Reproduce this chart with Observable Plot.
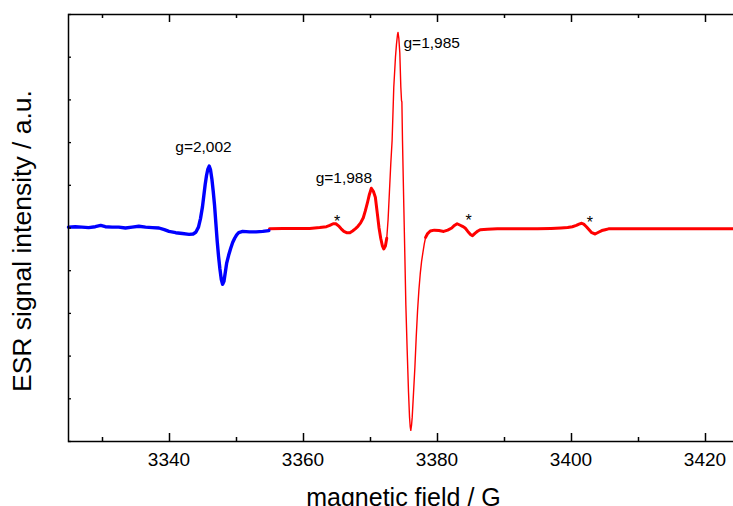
<!DOCTYPE html>
<html>
<head>
<meta charset="utf-8">
<script src="https://cdn.jsdelivr.net/npm/d3@7"></script>
<script src="https://cdn.jsdelivr.net/npm/@observablehq/plot@0.6"></script>
<style>
  html, body { margin: 0; padding: 0; background: #fff; overflow: hidden; }
  #chart svg { display: block; }
</style>
</head>
<body>
<div id="chart"></div>
<script>
// ---- data ----
const blueField = [3325.0,3326.0,3327.0,3328.0,3329.0,3329.8,3330.5,3331.5,3332.5,3333.5,3334.5,3335.5,3336.5,3337.5,3338.5,3339.3,3340.0,3341.0,3342.0,3343.0,3343.6,3344.0,3344.4,3344.7,3345.0,3345.2,3345.4,3345.6,3345.8,3346.0,3346.2,3346.4,3346.6,3346.8,3347.0,3347.2,3347.4,3347.6,3347.8,3348.0,3348.2,3348.4,3348.6,3348.9,3349.2,3349.5,3349.8,3350.1,3350.4,3351.0,3352.0,3353.0,3354.0,3354.9];
const blueSignal = [5.02,5.03,5.02,5.01,5.03,5.06,5.03,5.02,5.02,5.00,5.02,5.04,5.02,5.01,5.00,4.96,4.92,4.89,4.87,4.85,4.86,4.90,5.02,5.22,5.50,5.76,6.02,6.23,6.38,6.45,6.36,6.15,5.86,5.53,5.10,4.68,4.33,4.04,3.80,3.68,3.75,3.96,4.17,4.36,4.52,4.66,4.76,4.84,4.89,4.92,4.91,4.91,4.92,4.94];

const redField = [3355.0,3357.0,3359.0,3361.0,3362.5,3363.5,3364.0,3364.5,3364.9,3365.3,3365.7,3366.1,3366.5,3367.0,3367.4,3367.8,3368.2,3368.6,3369.0,3369.3,3369.6,3369.9,3370.2,3370.5,3370.8,3371.1,3371.35,3371.6,3371.85,3372.05,3372.3,3372.5,3372.7,3372.9,3373.1,3373.3,3373.55,3373.8,3373.95,3374.1,3374.18,3374.3,3374.45,3374.6,3374.7,3374.76,3374.85,3375.05,3375.2,3375.35,3375.55,3375.75,3375.9,3376.0,3376.09,3376.2,3376.3,3376.5,3376.7,3376.9,3377.1,3377.3,3377.5,3377.7,3377.9,3378.1,3378.3,3378.6,3379.0,3379.6,3380.3,3381.0,3381.6,3382.2,3382.6,3383.0,3383.4,3383.8,3384.2,3384.6,3385.0,3385.3,3385.7,3386.1,3386.5,3387.5,3389.0,3391.0,3393.0,3395.0,3397.0,3398.5,3399.5,3400.2,3400.8,3401.2,3401.6,3401.9,3402.3,3402.7,3403.1,3403.6,3404.1,3404.6,3405.1,3405.6,3407.0,3409.0,3411.0,3413.0,3415.0,3417.0,3419.0,3421.0,3423.0,3425.0];
const redSignal = [4.98,4.99,4.99,4.99,5.01,5.03,5.06,5.10,5.10,5.05,4.98,4.92,4.89,4.89,4.93,4.98,5.04,5.12,5.24,5.40,5.58,5.78,5.93,5.86,5.72,5.33,5.00,4.76,4.58,4.51,4.58,4.76,5.20,5.85,6.50,7.05,8.30,9.00,9.30,9.52,9.58,9.45,9.10,8.30,7.99,7.95,7.05,5.49,4.36,3.20,2.13,1.15,0.57,0.35,0.26,0.38,0.57,1.15,1.74,2.45,3.07,3.55,3.93,4.22,4.43,4.63,4.78,4.87,4.93,4.95,4.94,4.92,4.95,5.00,5.06,5.10,5.07,5.04,5.00,4.92,4.85,4.82,4.88,4.93,4.96,4.97,4.98,4.98,4.98,4.98,4.99,5.00,5.01,5.03,5.06,5.09,5.11,5.09,5.03,4.96,4.89,4.86,4.90,4.94,4.96,4.98,4.98,4.98,4.98,4.98,4.98,4.98,4.98,4.98,4.98,4.98];

const noteText  = ["g=2,002", "g=1,988", "g=1,985"];
const noteField = [3345.15, 3366.1, 3375.0];
const noteSignal = [6.89, 6.16, 9.34];
const noteAnchor = ["middle", "middle", "start"];

const starField = [3365.1, 3384.7, 3402.8];
const starSignal = [5.15, 5.16, 5.13];

const xMajorTicks = [3340, 3360, 3380, 3400, 3420];
const xMinorTicks = [3330, 3350, 3370, 3390, 3410];
const yTicks = [0,1,2,3,4,5,6,7,8,9,10];

const xTitle = "magnetic field / G";
const yTitle = "ESR signal intensity / a.u.";

// ---- build tables ----
const blue = blueField.map((x, i) => ({x, y: blueSignal[i]}));
const red = redField.map((x, i) => ({x, y: redSignal[i]}));
const notes = noteText.map((t, i) => ({t, x: noteField[i], y: noteSignal[i], a: noteAnchor[i]}));
const stars = starField.map((x, i) => ({x, y: starSignal[i]}));
const xTickRows = [
  ...xMajorTicks.map(v => ({v, len: 8})),
  ...xMinorTicks.map(v => ({v, len: 4}))
];

const FONT = "'Liberation Sans', Arial, Helvetica, sans-serif";
const blank = () => "";
const W = 733, H = 506, MT = 14, MB = 65, ML = 68;

const chart = Plot.plot({
  width: W,
  height: H,
  marginTop: MT,
  marginBottom: MB,
  marginLeft: ML,
  marginRight: -5,
  style: {fontFamily: FONT, background: "#fff", overflow: "hidden"},
  x: {domain: [3325, 3425]},
  y: {domain: [0, 10]},
  marks: [
    Plot.line(red, {x: "x", y: "y", stroke: "#ff0000", strokeWidth: 1.4}),
    Plot.line(red, {x: "x", y: "y", z: d => d.x < 3376 ? "a" : "b",
      filter: d => d.x <= 3372.5 || d.x >= 3378.3,
      stroke: "#ff0000", strokeWidth: 3}),
    Plot.line(blue, {x: "x", y: "y", stroke: "#0000ff", strokeWidth: 3.4}),
    Plot.text(notes.filter(d => d.a === "middle"), {x: "x", y: "y", text: "t", textAnchor: "middle", fontSize: 15.5, fill: "black"}),
    Plot.text(notes.filter(d => d.a === "start"), {x: "x", y: "y", text: "t", textAnchor: "start", fontSize: 15.5, fill: "black"}),
    Plot.text(stars, {x: "x", y: "y", text: () => "*", fontSize: 16, fill: "black"}),
    Plot.frame({stroke: "black", strokeWidth: 1.5}),
    Plot.axisX({anchor: "bottom", ticks: xMajorTicks, tickSize: 0, tickPadding: 11, fontSize: 19, label: null, tickFormat: d => String(d), fill: "black"}),
    Plot.axisY({anchor: "left", ticks: yTicks, tickSize: 3, dx: 3, tickFormat: blank, label: null, strokeWidth: 1.3, stroke: "black"}),
    Plot.text([xTitle], {frameAnchor: "bottom", text: d => d, lineAnchor: "top", dy: 47, fontSize: 25, fill: "black"}),
    Plot.text([yTitle], {frameAnchor: "left", text: d => d, textAnchor: "middle", rotate: -90, dx: -46, dy: 13, fontSize: 26.5, fill: "black"})
  ]
});
document.getElementById("chart").appendChild(chart);

// inward x ticks on bottom and top edges, placed with Plot's own x and y scales
const sx = chart.scale("x"), sy = chart.scale("y");
const xs = Plot.scale({x: sx}), ys = Plot.scale({y: sy});
const yBottom = ys.apply(sy.domain[0]);
const yTop = ys.apply(sy.domain[1]);
const tg = d3.select(chart).append("g")
  .attr("stroke", "#000").attr("stroke-width", 1.5).attr("fill", "none");
tg.selectAll("path.b").data(xTickRows).join("path").attr("class", "b")
  .attr("d", d => { const px = Math.round(xs.apply(d.v)) + 0.5; return `M${px},${yBottom}V${yBottom - d.len}`; });
tg.selectAll("path.t").data(xTickRows).join("path").attr("class", "t")
  .attr("d", d => { const px = Math.round(xs.apply(d.v)) + 0.5; return `M${px},${yTop}V${yTop + d.len}`; });
</script>
</body>
</html>
